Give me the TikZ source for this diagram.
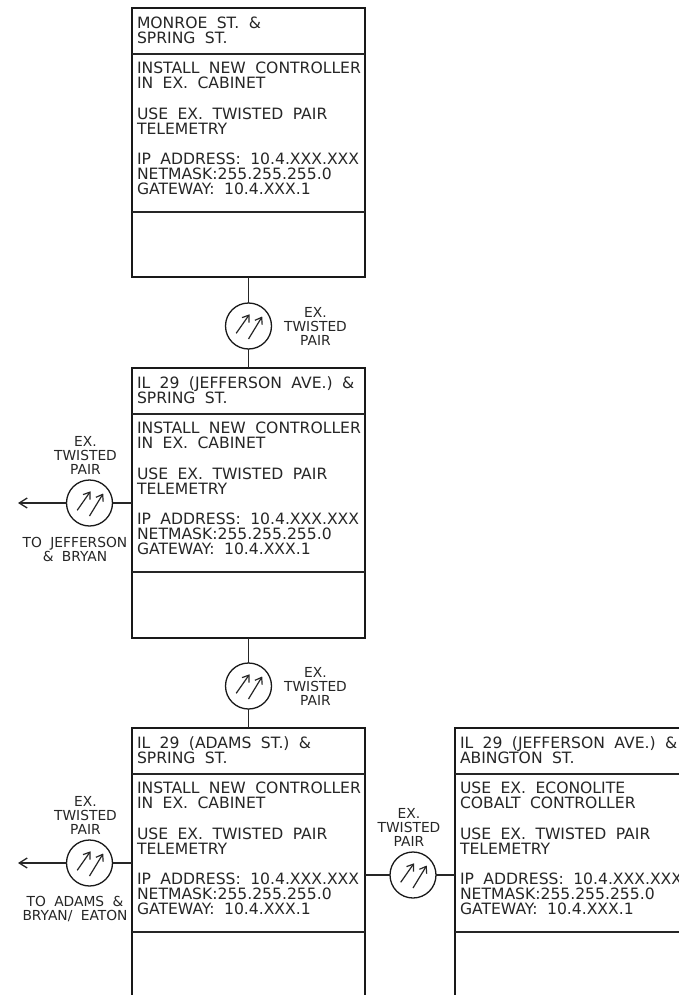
\documentclass[tikz,border=0pt]{standalone}
\usepackage{fontspec}
\setmainfont[WordSpace=1.9]{DejaVu Sans}
\usetikzlibrary{arrows.meta}
\tikzset{
  x=1pt,y=-1pt,
  ln/.style={line width=1.3pt,black!85},
  boxn/.style={draw=black!90,line width=1.4pt,anchor=north west,inner sep=0pt,outer sep=0pt},
  txt/.style={anchor=north west,inner sep=0pt,outer sep=0pt,align=left,text=black!85,font=\fontsize{15.6}{15}\selectfont},
  lab/.style={anchor=center,inner sep=0pt,outer sep=0pt,align=center,text=black!85,font=\fontsize{13.8}{14}\selectfont},
  circ/.style={circle,draw=black!90,line width=1.3pt,minimum size=46pt,inner sep=0pt,outer sep=0pt},
  barb/.style={line width=1.2pt,black!85,-{Straight Barb[length=6pt,width=8.5pt]}},
}
\newcommand{\sym}[3]{%
  \node[circ] (#1) at (#2,#3) {};
  \draw[barb] (#2-12.3,#3+7.3) -- (#2+1,#3-11.7);
  \draw[barb] (#2+0,#3+13) -- (#2+13.7,#3-9.5);
}
\newcommand{\ctl}[6]{% name x y height header body
  \node[boxn,minimum width=233pt,minimum height=#4pt] (#1) at (#2,#3) {};
  \draw[ln] (#2,#3+46) -- (#2+233,#3+46);
  \draw[ln] (#2,#3+204) -- (#2+233,#3+204);
  \node[txt] (#1h) at (#2+5,#3+9) {#5};
  \node[txt] (#1b) at (#2+5,#3+54) {#6};
}
\newcommand{\ipblock}{IP ADDRESS: 10.4.XXX.XXX\\NETMASK:255.255.255.0\\GATEWAY: 10.4.XXX.1}
\newcommand{\twp}{USE EX. TWISTED PAIR\\TELEMETRY\\[15.5pt]\ipblock}
\newcommand{\inst}{INSTALL NEW CONTROLLER\\IN EX. CABINET\\[15.5pt]\twp}
\begin{document}
\begin{tikzpicture}
\useasboundingbox (0,0) rectangle (679,995);
\clip (0,0) rectangle (679,995);
\fill[white] (0,0) rectangle (679,995);
\ctl{a}{132}{8}{269}{MONROE ST. \&\\SPRING ST.}{\inst}
\ctl{b}{132}{368}{270}{IL 29 (JEFFERSON AVE.) \&\\SPRING ST.}{\inst}
\ctl{c}{132}{728}{300}{IL 29 (ADAMS ST.) \&\\SPRING ST.}{\inst}
\ctl{d}{455}{728}{300}{IL 29 (JEFFERSON AVE.) \&\\ABINGTON ST.}{USE EX. ECONOLITE\\COBALT CONTROLLER\\[15.5pt]\twp}
\sym{s1}{248.5}{326}
\sym{s2}{248.5}{686}
\sym{s3}{89.5}{503}
\sym{s4}{89.5}{863}
\sym{s5}{413}{875}
\draw[ln] (a.south) -- (s1);
\draw[ln] (s1) -- (b.north);
\draw[ln] (b.south) -- (s2);
\draw[ln] (s2) -- (c.north);
\coordinate (e3) at (18,503);
\coordinate (e4) at (18,863);
\coordinate (b3) at (132,503);
\coordinate (c3) at (132,863);
\coordinate (c5) at (365,875);
\coordinate (d5) at (455,875);
\draw[ln] (b3) -- (s3);
\draw[ln] (c3) -- (s4);
\draw[ln] (c5) -- (s5);
\draw[ln] (s5) -- (d5);
\draw[ln,-{Straight Barb[length=8pt,width=10pt]}] (s3) -- (e3);
\draw[ln,-{Straight Barb[length=8pt,width=10pt]}] (s4) -- (e4);
\node[lab] (l1) at (315.5,326) {EX.\\TWISTED\\PAIR};
\node[lab] (l2) at (315.5,686) {EX.\\TWISTED\\PAIR};
\node[lab] (l3) at (85.5,455) {EX.\\TWISTED\\PAIR};
\node[lab] (l4) at (85.5,815) {EX.\\TWISTED\\PAIR};
\node[lab] (l5) at (409,827) {EX.\\TWISTED\\PAIR};
\node[lab] (l6) at (75,549) {TO JEFFERSON\\\& BRYAN};
\node[lab] (l7) at (75,909) {TO ADAMS \&\\BRYAN/ EATON};
\end{tikzpicture}
\end{document}
